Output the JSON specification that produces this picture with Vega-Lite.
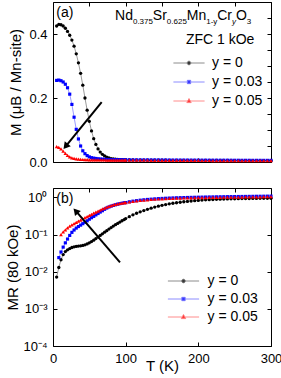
{
  "$schema": "https://vega.github.io/schema/vega-lite/v6.json",
  "padding": {"left": 5, "top": 1, "right": 4, "bottom": 2},
  "background": "white",
  "config": {
    "font": "Liberation Sans",
    "view": {"stroke": "black", "strokeWidth": 1},
    "axis": {"domain": false, "grid": false, "ticks": true, "tickSize": -4, "tickColor": "black", "tickWidth": 1,
      "labelFont": "Liberation Sans", "labelFontSize": 13, "labelColor": "black", "labelPadding": 10,
      "labelFlush": false, "labelOverlap": false,
      "titleFont": "Liberation Sans", "titleFontSize": 15, "titleFontWeight": "normal", "titleColor": "black"},
    "legend": {"labelFont": "Liberation Sans", "labelFontSize": 14, "labelColor": "black", "symbolSize": 64, "padding": 0, "symbolOpacity": 1}
  },
  "datasets": {
    "mt": [
      {"T": 5, "a0": 0.425, "a3": 0.255, "a5": 0.048, "b0": 0.0072, "b3": null, "b5": null},
      {"T": 8, "a0": 0.43, "a3": 0.256, "a5": 0.046, "b0": 0.013, "b3": 0.024, "b5": null},
      {"T": 11, "a0": 0.429, "a3": 0.254, "a5": 0.041, "b0": 0.021, "b3": 0.034, "b5": 0.10},
      {"T": 14, "a0": 0.425, "a3": 0.25, "a5": 0.034, "b0": 0.029, "b3": 0.046, "b5": 0.118},
      {"T": 17, "a0": 0.418, "a3": 0.243, "a5": 0.027, "b0": 0.035, "b3": 0.06, "b5": 0.135},
      {"T": 20, "a0": 0.408, "a3": 0.232, "a5": 0.021, "b0": 0.039, "b3": 0.076, "b5": 0.152},
      {"T": 23, "a0": 0.396, "a3": 0.212, "a5": 0.016, "b0": 0.042, "b3": 0.095, "b5": 0.168},
      {"T": 26, "a0": 0.381, "a3": 0.18, "a5": 0.013, "b0": 0.045, "b3": 0.115, "b5": 0.183},
      {"T": 29, "a0": 0.362, "a3": 0.14, "a5": 0.011, "b0": 0.047, "b3": 0.133, "b5": 0.198},
      {"T": 32, "a0": 0.338, "a3": 0.102, "a5": 0.0095, "b0": 0.048, "b3": 0.15, "b5": 0.214},
      {"T": 35, "a0": 0.31, "a3": 0.072, "a5": 0.0088, "b0": 0.049, "b3": 0.165, "b5": 0.23},
      {"T": 38, "a0": 0.277, "a3": 0.05, "a5": 0.0082, "b0": 0.05, "b3": 0.18, "b5": 0.247},
      {"T": 41, "a0": 0.24, "a3": 0.035, "a5": 0.0078, "b0": 0.051, "b3": 0.197, "b5": 0.265},
      {"T": 44, "a0": 0.2, "a3": 0.026, "a5": 0.0075, "b0": 0.053, "b3": 0.215, "b5": 0.285},
      {"T": 47, "a0": 0.162, "a3": 0.02, "a5": 0.0072, "b0": 0.056, "b3": 0.235, "b5": 0.307},
      {"T": 50, "a0": 0.127, "a3": 0.016, "a5": 0.007, "b0": 0.06, "b3": 0.26, "b5": 0.33},
      {"T": 53, "a0": 0.097, "a3": 0.0135, "a5": 0.0069, "b0": 0.065, "b3": 0.285, "b5": 0.353},
      {"T": 56, "a0": 0.073, "a3": 0.012, "a5": 0.0068, "b0": 0.071, "b3": 0.31, "b5": 0.378},
      {"T": 59, "a0": 0.055, "a3": 0.011, "a5": 0.0067, "b0": 0.078, "b3": 0.34, "b5": 0.405},
      {"T": 62, "a0": 0.041, "a3": 0.01, "a5": 0.0066, "b0": 0.086, "b3": 0.37, "b5": 0.43},
      {"T": 65, "a0": 0.031, "a3": 0.0093, "a5": 0.0065, "b0": 0.095, "b3": 0.405, "b5": 0.46},
      {"T": 68, "a0": 0.024, "a3": 0.0088, "a5": 0.0064, "b0": 0.105, "b3": 0.44, "b5": 0.49},
      {"T": 71, "a0": 0.019, "a3": 0.0084, "a5": 0.0063, "b0": 0.116, "b3": 0.48, "b5": 0.52},
      {"T": 74, "a0": 0.015, "a3": 0.008, "a5": 0.0062, "b0": 0.128, "b3": 0.52, "b5": 0.55},
      {"T": 77, "a0": 0.0125, "a3": 0.0077, "a5": 0.0062, "b0": 0.141, "b3": 0.555, "b5": 0.58},
      {"T": 80, "a0": 0.0108, "a3": 0.0075, "a5": 0.0061, "b0": 0.155, "b3": 0.585, "b5": 0.605},
      {"T": 83, "a0": 0.0095, "a3": 0.0073, "a5": 0.006, "b0": 0.17, "b3": 0.61, "b5": 0.63},
      {"T": 86, "a0": 0.0087, "a3": 0.0072, "a5": 0.006, "b0": 0.185, "b3": 0.635, "b5": 0.652},
      {"T": 89, "a0": 0.008, "a3": 0.0071, "a5": 0.0059, "b0": 0.2, "b3": 0.66, "b5": 0.672},
      {"T": 92, "a0": 0.0075, "a3": 0.007, "a5": 0.0059, "b0": 0.218, "b3": 0.68, "b5": 0.69},
      {"T": 95, "a0": 0.0071, "a3": 0.0069, "a5": 0.0058, "b0": 0.236, "b3": 0.7, "b5": 0.707},
      {"T": 98, "a0": 0.0068, "a3": 0.0068, "a5": 0.0058, "b0": 0.254, "b3": 0.72, "b5": 0.722},
      {"T": 100, "a0": 0.0066, "a3": 0.0068, "a5": 0.0058, "b0": 0.27, "b3": 0.73, "b5": 0.732},
      {"T": 105, "a0": 0.0064, "a3": 0.0067, "a5": 0.0057, "b0": 0.305, "b3": 0.765, "b5": 0.76},
      {"T": 110, "a0": 0.0062, "a3": 0.0067, "a5": 0.0057, "b0": 0.34, "b3": 0.795, "b5": 0.785},
      {"T": 115, "a0": 0.0061, "a3": 0.0066, "a5": 0.0056, "b0": 0.376, "b3": 0.82, "b5": 0.808},
      {"T": 120, "a0": 0.006, "a3": 0.0066, "a5": 0.0056, "b0": 0.41, "b3": 0.845, "b5": 0.83},
      {"T": 125, "a0": 0.0059, "a3": 0.0065, "a5": 0.0055, "b0": 0.445, "b3": 0.865, "b5": 0.85},
      {"T": 130, "a0": 0.0058, "a3": 0.0065, "a5": 0.0055, "b0": 0.48, "b3": 0.885, "b5": 0.868},
      {"T": 135, "a0": 0.0057, "a3": 0.0064, "a5": 0.0054, "b0": 0.515, "b3": 0.9, "b5": 0.884},
      {"T": 140, "a0": 0.0056, "a3": 0.0064, "a5": 0.0054, "b0": 0.55, "b3": 0.915, "b5": 0.898},
      {"T": 145, "a0": 0.0055, "a3": 0.0063, "a5": 0.0053, "b0": 0.583, "b3": 0.93, "b5": 0.91},
      {"T": 150, "a0": 0.0055, "a3": 0.0063, "a5": 0.0053, "b0": 0.615, "b3": 0.942, "b5": 0.921},
      {"T": 155, "a0": 0.0054, "a3": 0.0062, "a5": 0.0052, "b0": 0.645, "b3": 0.953, "b5": 0.931},
      {"T": 160, "a0": 0.0053, "a3": 0.0062, "a5": 0.0052, "b0": 0.673, "b3": 0.963, "b5": 0.94},
      {"T": 165, "a0": 0.0053, "a3": 0.0061, "a5": 0.0051, "b0": 0.698, "b3": 0.972, "b5": 0.948},
      {"T": 170, "a0": 0.0052, "a3": 0.0061, "a5": 0.0051, "b0": 0.722, "b3": 0.98, "b5": 0.955},
      {"T": 175, "a0": 0.0051, "a3": 0.006, "a5": 0.005, "b0": 0.745, "b3": 0.988, "b5": 0.962},
      {"T": 180, "a0": 0.0051, "a3": 0.006, "a5": 0.005, "b0": 0.766, "b3": 0.995, "b5": 0.968},
      {"T": 185, "a0": 0.005, "a3": 0.0059, "a5": 0.0049, "b0": 0.785, "b3": 1.0, "b5": 0.974},
      {"T": 190, "a0": 0.005, "a3": 0.0059, "a5": 0.0049, "b0": 0.803, "b3": 1.006, "b5": 0.979},
      {"T": 195, "a0": 0.0049, "a3": 0.0058, "a5": 0.0048, "b0": 0.82, "b3": 1.012, "b5": 0.984},
      {"T": 200, "a0": 0.0049, "a3": 0.0058, "a5": 0.0048, "b0": 0.835, "b3": 1.017, "b5": 0.989},
      {"T": 205, "a0": 0.0048, "a3": 0.0057, "a5": 0.0047, "b0": 0.849, "b3": 1.022, "b5": 0.993},
      {"T": 210, "a0": 0.0048, "a3": 0.0057, "a5": 0.0047, "b0": 0.862, "b3": 1.027, "b5": 0.997},
      {"T": 215, "a0": 0.0048, "a3": 0.0056, "a5": 0.0047, "b0": 0.873, "b3": 1.032, "b5": 1.001},
      {"T": 220, "a0": 0.0047, "a3": 0.0056, "a5": 0.0046, "b0": 0.883, "b3": 1.036, "b5": 1.005},
      {"T": 225, "a0": 0.0047, "a3": 0.0056, "a5": 0.0046, "b0": 0.892, "b3": 1.04, "b5": 1.008},
      {"T": 230, "a0": 0.0047, "a3": 0.0055, "a5": 0.0046, "b0": 0.9, "b3": 1.044, "b5": 1.011},
      {"T": 235, "a0": 0.0046, "a3": 0.0055, "a5": 0.0045, "b0": 0.907, "b3": 1.048, "b5": 1.014},
      {"T": 240, "a0": 0.0046, "a3": 0.0055, "a5": 0.0045, "b0": 0.913, "b3": 1.052, "b5": 1.017},
      {"T": 245, "a0": 0.0046, "a3": 0.0054, "a5": 0.0045, "b0": 0.919, "b3": 1.055, "b5": 1.02},
      {"T": 250, "a0": 0.0045, "a3": 0.0054, "a5": 0.0044, "b0": 0.924, "b3": 1.058, "b5": 1.023},
      {"T": 255, "a0": 0.0045, "a3": 0.0054, "a5": 0.0044, "b0": 0.928, "b3": 1.061, "b5": 1.026},
      {"T": 260, "a0": 0.0045, "a3": 0.0053, "a5": 0.0044, "b0": 0.932, "b3": 1.064, "b5": 1.029},
      {"T": 265, "a0": 0.0045, "a3": 0.0053, "a5": 0.0044, "b0": 0.936, "b3": 1.067, "b5": 1.032},
      {"T": 270, "a0": 0.0044, "a3": 0.0053, "a5": 0.0043, "b0": 0.939, "b3": 1.07, "b5": 1.035},
      {"T": 275, "a0": 0.0044, "a3": 0.0052, "a5": 0.0043, "b0": 0.942, "b3": 1.073, "b5": 1.038},
      {"T": 280, "a0": 0.0044, "a3": 0.0052, "a5": 0.0043, "b0": 0.945, "b3": 1.076, "b5": 1.041},
      {"T": 285, "a0": 0.0044, "a3": 0.0052, "a5": 0.0043, "b0": 0.947, "b3": 1.079, "b5": 1.044},
      {"T": 290, "a0": 0.0043, "a3": 0.0051, "a5": 0.0042, "b0": 0.949, "b3": 1.082, "b5": 1.047},
      {"T": 295, "a0": 0.0043, "a3": 0.0051, "a5": 0.0042, "b0": 0.951, "b3": 1.085, "b5": 1.05},
      {"T": 300, "a0": 0.0043, "a3": 0.0051, "a5": 0.0042, "b0": 0.953, "b3": 1.088, "b5": 1.052}
    ]
  },
  "spacing": 17,
  "resolve": {
    "scale": {"x": "independent", "y": "independent", "color": "independent", "stroke": "independent"},
    "legend": {"color": "independent", "stroke": "independent"}
  },
  "vconcat": [
    {
      "width": 218, "height": 160,
      "resolve": {"axis": {"x": "independent", "y": "independent"}},
      "layer": [
        {
          "layer": [
            {
              "data": {"name": "mt"},
              "transform": [{"fold": ["a0", "a3", "a5"], "as": ["lk", "M"]}],
              "mark": {"type": "line", "strokeWidth": 0.8},
              "encoding": {
                "x": {"field": "T", "type": "quantitative", "scale": {"domain": [0, 300], "nice": false, "zero": false},
                  "axis": {"values": [0, 50, 100, 150, 200, 250, 300], "labels": false, "title": null}},
                "y": {"field": "M", "type": "quantitative", "scale": {"domain": [0, 0.5], "nice": false},
                  "axis": {"values": [0, 0.05, 0.1, 0.15, 0.2, 0.25, 0.3, 0.35, 0.4, 0.45, 0.5],
                    "labelExpr": "round(datum.value*100) % 10 == 0 ? format(datum.value, '.1f') : ''",
                    "title": "M (μB / Mn-site)", "titlePadding": 5}},
                "stroke": {"field": "lk", "type": "nominal", "scale": {"range": ["#808080", "#8080ff", "#ff8080"]}, "legend": null}
              }
            },
            {
              "data": {"name": "mt"},
              "transform": [{"fold": ["a0", "a3", "a5"], "as": ["key", "M"]}, {"filter": {"field": "key", "equal": "a0"}}],
              "mark": {"type": "point", "shape": "circle", "filled": true, "opacity": 1, "size": 11},
              "encoding": {
                "x": {"field": "T", "type": "quantitative"},
                "y": {"field": "M", "type": "quantitative"},
                "color": {"field": "key", "type": "nominal", "scale": {"domain": ["a0", "a3", "a5"], "range": ["#000000", "#0000ff", "#ff0000"]},
                  "legend": {
                    "orient": "none", "legendX": 129, "legendY": 54, "title": null,
                    "labelOffset": 16, "rowPadding": 5,
                    "labelExpr": "datum.value == 'a0' ? 'y = 0' : datum.value == 'a3' ? 'y = 0.03' : 'y = 0.05'",
                    "encode": {"symbols": {"update": {
                      "shape": {"signal": "datum.value == 'a0' ? 'M-3.9,0H3.9M0.45,0A0.45,0.45,0,1,1,-0.45,0A0.45,0.45,0,1,1,0.45,0Z' : datum.value == 'a3' ? 'M-3.9,0H3.9M-0.42,-0.42H0.42V0.42H-0.42Z' : 'M-3.9,0H3.9M0,-0.6L0.55,0.4H-0.55Z'"},
                      "stroke": {"signal": "datum.value == 'a0' ? '#808080' : datum.value == 'a3' ? '#8080ff' : '#ff8080'"},
                      "strokeWidth": {"value": 0.9},
                      "opacity": {"value": 1}
                    }}}
                  }}
              }
            },
            {
              "data": {"name": "mt"},
              "transform": [{"fold": ["a0", "a3", "a5"], "as": ["key", "M"]}, {"filter": {"field": "key", "equal": "a3"}}],
              "mark": {"type": "point", "shape": "square", "filled": true, "opacity": 1, "size": 10},
              "encoding": {
                "x": {"field": "T", "type": "quantitative"},
                "y": {"field": "M", "type": "quantitative"},
                "color": {"field": "key", "type": "nominal"}
              }
            },
            {
              "data": {"name": "mt"},
              "transform": [{"fold": ["a0", "a3", "a5"], "as": ["key", "M"]}, {"filter": {"field": "key", "equal": "a5"}}],
              "mark": {"type": "point", "shape": "triangle-up", "filled": true, "opacity": 1, "size": 14},
              "encoding": {
                "x": {"field": "T", "type": "quantitative"},
                "y": {"field": "M", "type": "quantitative"},
                "color": {"field": "key", "type": "nominal"}
              }
            },
            {
              "data": {"values": [{}]},
              "mark": {"type": "rule", "color": "black", "strokeWidth": 2},
              "encoding": {"x": {"datum": 67}, "y": {"datum": 0.187}, "x2": {"datum": 17.4}, "y2": {"datum": 0.049}}
            },
            {
              "data": {"values": [{}]},
              "mark": {"type": "point", "shape": "triangle-up", "filled": true, "color": "black", "size": 60, "angle": 219, "opacity": 1},
              "encoding": {"x": {"datum": 17.4, "type": "quantitative"}, "y": {"datum": 0.049, "type": "quantitative"}}
            },
            {
              "data": {"values": [{}]},
              "mark": {"type": "text", "text": "(a)", "fontSize": 14, "align": "left", "baseline": "middle", "color": "black"},
              "encoding": {"x": {"datum": 4.5, "type": "quantitative"}, "y": {"datum": 0.467, "type": "quantitative"}}
            },
            {
              "data": {"values": [{}]},
              "mark": {"type": "text", "text": "ZFC 1 kOe", "fontSize": 14, "align": "center", "baseline": "middle", "color": "black"},
              "encoding": {"x": {"datum": 230, "type": "quantitative"}, "y": {"datum": 0.381, "type": "quantitative"}}
            },
            {"data": {"values": [{}]}, "mark": {"type": "text", "text": "Nd", "fontSize": 14, "align": "left", "baseline": "alphabetic", "color": "black"},
              "encoding": {"x": {"datum": 85.4, "type": "quantitative"}, "y": {"datum": 0.4428, "type": "quantitative"}}},
            {"data": {"values": [{}]}, "mark": {"type": "text", "text": "0.375", "fontSize": 8, "align": "left", "baseline": "alphabetic", "color": "black"},
              "encoding": {"x": {"datum": 110.0, "type": "quantitative"}, "y": {"datum": 0.4322, "type": "quantitative"}}},
            {"data": {"values": [{}]}, "mark": {"type": "text", "text": "Sr", "fontSize": 14, "align": "left", "baseline": "alphabetic", "color": "black"},
              "encoding": {"x": {"datum": 137.4, "type": "quantitative"}, "y": {"datum": 0.4428, "type": "quantitative"}}},
            {"data": {"values": [{}]}, "mark": {"type": "text", "text": "0.625", "fontSize": 8, "align": "left", "baseline": "alphabetic", "color": "black"},
              "encoding": {"x": {"datum": 156.7, "type": "quantitative"}, "y": {"datum": 0.4322, "type": "quantitative"}}},
            {"data": {"values": [{}]}, "mark": {"type": "text", "text": "Mn", "fontSize": 14, "align": "left", "baseline": "alphabetic", "color": "black"},
              "encoding": {"x": {"datum": 184.1, "type": "quantitative"}, "y": {"datum": 0.4428, "type": "quantitative"}}},
            {"data": {"values": [{}]}, "mark": {"type": "text", "text": "1-y", "fontSize": 8, "align": "left", "baseline": "alphabetic", "color": "black"},
              "encoding": {"x": {"datum": 210.8, "type": "quantitative"}, "y": {"datum": 0.4322, "type": "quantitative"}}},
            {"data": {"values": [{}]}, "mark": {"type": "text", "text": "Cr", "fontSize": 14, "align": "left", "baseline": "alphabetic", "color": "black"},
              "encoding": {"x": {"datum": 226.0, "type": "quantitative"}, "y": {"datum": 0.4428, "type": "quantitative"}}},
            {"data": {"values": [{}]}, "mark": {"type": "text", "text": "y", "fontSize": 8, "fontStyle": "italic", "align": "left", "baseline": "alphabetic", "color": "black"},
              "encoding": {"x": {"datum": 246.3, "type": "quantitative"}, "y": {"datum": 0.4322, "type": "quantitative"}}},
            {"data": {"values": [{}]}, "mark": {"type": "text", "text": "O", "fontSize": 14, "align": "left", "baseline": "alphabetic", "color": "black"},
              "encoding": {"x": {"datum": 251.8, "type": "quantitative"}, "y": {"datum": 0.4428, "type": "quantitative"}}},
            {"data": {"values": [{}]}, "mark": {"type": "text", "text": "3", "fontSize": 8, "align": "left", "baseline": "alphabetic", "color": "black"},
              "encoding": {"x": {"datum": 266.8, "type": "quantitative"}, "y": {"datum": 0.4322, "type": "quantitative"}}}
          ]
        },
        {
          "data": {"values": [{}]},
          "mark": {"type": "point", "opacity": 0},
          "encoding": {
            "x": {"datum": 100, "type": "quantitative", "axis": {"orient": "top", "values": [0, 50, 100, 150, 200, 250, 300], "labels": false, "title": null}},
            "y": {"datum": 0.2, "type": "quantitative", "axis": {"orient": "right", "values": [0, 0.05, 0.1, 0.15, 0.2, 0.25, 0.3, 0.35, 0.4, 0.45, 0.5], "labels": false, "title": null}}
          }
        }
      ]
    },
    {
      "width": 218, "height": 158,
      "resolve": {"axis": {"x": "independent", "y": "independent"}},
      "layer": [
        {
          "layer": [
            {
              "data": {"name": "mt"},
              "transform": [{"fold": ["b0", "b3", "b5"], "as": ["lk", "MR"]}, {"filter": {"field": "MR", "valid": true}}],
              "mark": {"type": "line", "strokeWidth": 0.8},
              "encoding": {
                "x": {"field": "T", "type": "quantitative", "scale": {"domain": [0, 300], "nice": false, "zero": false},
                  "axis": {"values": [0, 50, 100, 150, 200, 250, 300],
                    "labelExpr": "datum.value % 100 == 0 ? datum.label : ''",
                    "title": "T (K)", "titlePadding": -7}},
                "y": {"field": "MR", "type": "quantitative", "scale": {"type": "log", "domain": [0.0001, 1.8], "nice": false},
                  "axis": {"values": [0.0001, 0.001, 0.01, 0.1, 1],
                    "labelExpr": "datum.value < 0.0005 ? '10⁻⁴' : datum.value < 0.005 ? '10⁻³' : datum.value < 0.05 ? '10⁻²' : datum.value < 0.5 ? '10⁻¹' : '10⁰'",
                    "title": "MR (80 kOe)", "titlePadding": 2}},
                "stroke": {"field": "lk", "type": "nominal", "scale": {"range": ["#808080", "#8080ff", "#ff8080"]}, "legend": null}
              }
            },
            {
              "data": {"name": "mt"},
              "transform": [{"fold": ["b0", "b3", "b5"], "as": ["key", "MR"]}, {"filter": {"field": "key", "equal": "b0"}}, {"filter": {"field": "MR", "valid": true}}],
              "mark": {"type": "point", "shape": "circle", "filled": true, "opacity": 1, "size": 11},
              "encoding": {
                "x": {"field": "T", "type": "quantitative"},
                "y": {"field": "MR", "type": "quantitative"},
                "color": {"field": "key", "type": "nominal", "scale": {"domain": ["b0", "b3", "b5"], "range": ["#000000", "#0000ff", "#ff0000"]},
                  "legend": {
                    "orient": "none", "legendX": 123.5, "legendY": 86, "title": null,
                    "labelOffset": 17, "rowPadding": 4,
                    "labelExpr": "datum.value == 'b0' ? 'y = 0' : datum.value == 'b3' ? 'y = 0.03' : 'y = 0.05'",
                    "encode": {"symbols": {"update": {
                      "shape": {"signal": "datum.value == 'b0' ? 'M-3.9,0H3.9M0.45,0A0.45,0.45,0,1,1,-0.45,0A0.45,0.45,0,1,1,0.45,0Z' : datum.value == 'b3' ? 'M-3.9,0H3.9M-0.42,-0.42H0.42V0.42H-0.42Z' : 'M-3.9,0H3.9M0,-0.6L0.55,0.4H-0.55Z'"},
                      "stroke": {"signal": "datum.value == 'b0' ? '#808080' : datum.value == 'b3' ? '#8080ff' : '#ff8080'"},
                      "strokeWidth": {"value": 0.9},
                      "opacity": {"value": 1}
                    }}}
                  }}
              }
            },
            {
              "data": {"name": "mt"},
              "transform": [{"fold": ["b0", "b3", "b5"], "as": ["key", "MR"]}, {"filter": {"field": "key", "equal": "b3"}}, {"filter": {"field": "MR", "valid": true}}],
              "mark": {"type": "point", "shape": "square", "filled": true, "opacity": 1, "size": 10},
              "encoding": {
                "x": {"field": "T", "type": "quantitative"},
                "y": {"field": "MR", "type": "quantitative"},
                "color": {"field": "key", "type": "nominal"}
              }
            },
            {
              "data": {"name": "mt"},
              "transform": [{"fold": ["b0", "b3", "b5"], "as": ["key", "MR"]}, {"filter": {"field": "key", "equal": "b5"}}, {"filter": {"field": "MR", "valid": true}}],
              "mark": {"type": "point", "shape": "triangle-up", "filled": true, "opacity": 1, "size": 14},
              "encoding": {
                "x": {"field": "T", "type": "quantitative"},
                "y": {"field": "MR", "type": "quantitative"},
                "color": {"field": "key", "type": "nominal"}
              }
            },
            {
              "data": {"values": [{}]},
              "mark": {"type": "rule", "color": "black", "strokeWidth": 2},
              "encoding": {"x": {"datum": 92.2}, "y": {"datum": 0.0178}, "x2": {"datum": 31.3}, "y2": {"datum": 0.434}}
            },
            {
              "data": {"values": [{}]},
              "mark": {"type": "point", "shape": "triangle-up", "filled": true, "color": "black", "size": 60, "angle": 319, "opacity": 1},
              "encoding": {"x": {"datum": 31.3, "type": "quantitative"}, "y": {"datum": 0.434, "type": "quantitative"}}
            },
            {
              "data": {"values": [{}]},
              "mark": {"type": "text", "text": "(b)", "fontSize": 14, "align": "left", "baseline": "middle", "color": "black"},
              "encoding": {"x": {"datum": 4.5, "type": "quantitative"}, "y": {"datum": 0.91, "type": "quantitative"}}
            }
          ]
        },
        {
          "data": {"values": [{}]},
          "mark": {"type": "point", "opacity": 0},
          "encoding": {
            "x": {"datum": 100, "type": "quantitative", "axis": {"orient": "top", "values": [0, 50, 100, 150, 200, 250, 300], "labels": false, "title": null}},
            "y": {"datum": 0.01, "type": "quantitative", "axis": {"orient": "right", "values": [0.0001, 0.001, 0.01, 0.1, 1], "labels": false, "title": null}}
          }
        }
      ]
    }
  ]
}
